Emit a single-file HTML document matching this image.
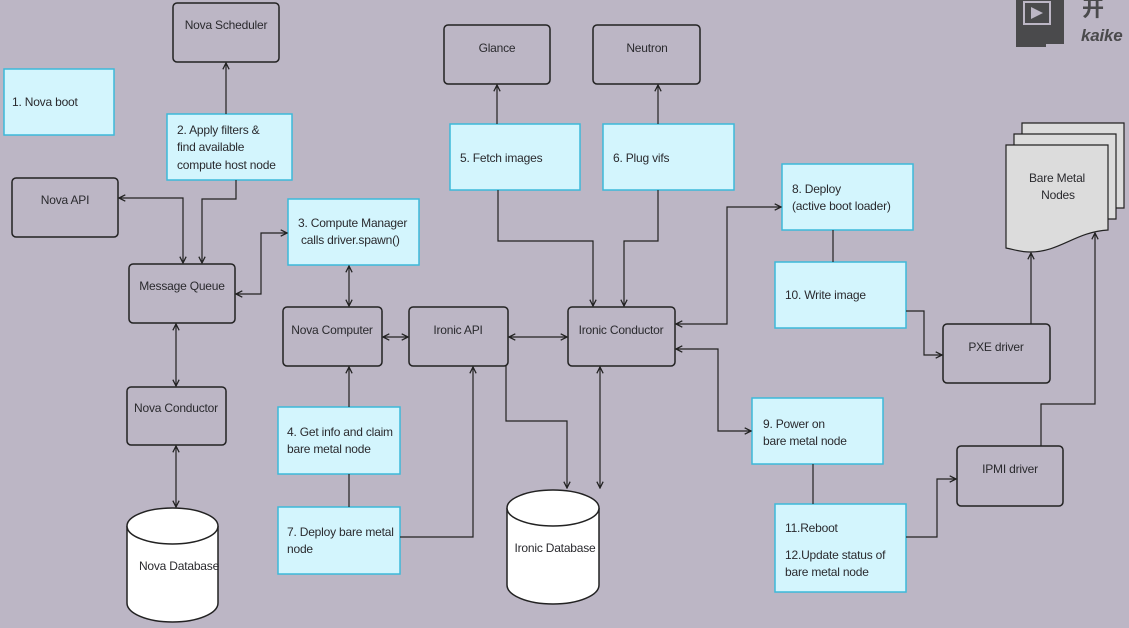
<!DOCTYPE html>
<html><head><meta charset="utf-8"><style>
html,body{margin:0;padding:0;background:#bcb6c5;}
svg{display:block;font-family:"Liberation Sans","Noto Sans CJK SC",sans-serif;}
text{font-size:12px;letter-spacing:-0.2px;fill:#2a2a2e;}
.b{fill:none;stroke:#222;stroke-width:1.5;}
.c{fill:#d3f5fd;stroke:#3db9da;stroke-width:1.5;}
.l{fill:none;stroke:#222;stroke-width:1.2;}
</style></head><body>
<svg width="1129" height="628" viewBox="0 0 1129 628" xmlns="http://www.w3.org/2000/svg">
<defs>
<marker id="a" viewBox="0 0 8 8" refX="7" refY="4" markerWidth="7" markerHeight="7" orient="auto-start-reverse"><path d="M1,1 L7,4 L1,7" fill="none" stroke="#222" stroke-width="1.2"/></marker>
</defs>
<rect width="1129" height="628" fill="#bcb6c5"/>

<!-- logo -->
<path d="M1016,0 H1064 V44 H1046 L1046,47 H1016 Z" fill="#4a4a4c"/>
<rect x="1024" y="2" width="26" height="22" fill="none" stroke="#bcb6c5" stroke-width="2"/>
<path d="M1031,7 L1043,13 L1031,19 Z" fill="#bcb6c5"/>
<text x="1082" y="16" style="font-size:22px;font-weight:bold;fill:#4a4a4c">开</text>
<text x="1081" y="41" style="font-size:17px;font-weight:bold;font-style:italic;fill:#4a4a4c">kaike</text>

<!-- plain boxes -->
<rect class="b" x="173" y="3" width="106" height="59" rx="4"/><text x="226" y="29" text-anchor="middle">Nova Scheduler</text>
<rect class="b" x="12" y="178" width="106" height="59" rx="4"/><text x="65" y="204" text-anchor="middle">Nova API</text>
<rect class="b" x="129" y="264" width="106" height="59" rx="4"/><text x="182" y="290" text-anchor="middle">Message Queue</text>
<rect class="b" x="127" y="387" width="99" height="58" rx="4"/><text x="176" y="412" text-anchor="middle">Nova Conductor</text>
<rect class="b" x="283" y="307" width="99" height="59" rx="4"/><text x="332" y="334" text-anchor="middle">Nova Computer</text>
<rect class="b" x="409" y="307" width="99" height="59" rx="4"/><text x="458" y="334" text-anchor="middle">Ironic API</text>
<rect class="b" x="568" y="307" width="107" height="59" rx="4"/><text x="621" y="334" text-anchor="middle">Ironic Conductor</text>
<rect class="b" x="444" y="25" width="106" height="59" rx="4"/><text x="497" y="52" text-anchor="middle">Glance</text>
<rect class="b" x="593" y="25" width="107" height="59" rx="4"/><text x="647" y="52" text-anchor="middle">Neutron</text>
<rect class="b" x="943" y="324" width="107" height="59" rx="4"/><text x="996" y="351" text-anchor="middle">PXE driver</text>
<rect class="b" x="957" y="446" width="106" height="60" rx="4"/><text x="1010" y="473" text-anchor="middle">IPMI driver</text>

<!-- cylinders -->
<path d="M127,526 V603 A45.5,19 0 0 0 218,603 V526" fill="#fff" stroke="#222" stroke-width="1.5"/>
<ellipse cx="172.5" cy="526" rx="45.5" ry="18" fill="#fff" stroke="#222" stroke-width="1.5"/>
<text x="179" y="570" text-anchor="middle">Nova Database</text>
<path d="M507,508 V585 A46,19 0 0 0 599,585 V508" fill="#fff" stroke="#222" stroke-width="1.5"/>
<ellipse cx="553" cy="508" rx="46" ry="18" fill="#fff" stroke="#222" stroke-width="1.5"/>
<text x="555" y="552" text-anchor="middle">Ironic Database</text>

<!-- bare metal docs -->
<path d="M1022,123 H1124 V208 H1022 Z" fill="#dcdcdc" stroke="#222" stroke-width="1.2"/>
<path d="M1014,134 H1116 V219 H1014 Z" fill="#dcdcdc" stroke="#222" stroke-width="1.2"/>
<path d="M1006,145 H1108 V230 C1075,232 1060,252 1030,252 C1020,252 1012,249 1006,248 Z" fill="#dcdcdc" stroke="#222" stroke-width="1.2"/>
<text x="1057" y="182" text-anchor="middle">Bare Metal</text>
<text x="1058" y="199" text-anchor="middle">Nodes</text>

<!-- cyan boxes -->
<rect class="c" x="4" y="69" width="110" height="66"/><text x="12" y="106">1. Nova boot</text>
<rect class="c" x="167" y="114" width="125" height="66"/><text x="177" y="134">2. Apply filters &amp;</text><text x="177" y="151">find available</text><text x="177" y="169">compute host node</text>
<rect class="c" x="288" y="199" width="131" height="66"/><text x="298" y="227">3. Compute Manager</text><text x="301" y="244">calls driver.spawn()</text>
<rect class="c" x="278" y="407" width="122" height="67"/><text x="287" y="436">4. Get info and claim</text><text x="287" y="453">bare metal node</text>
<rect class="c" x="278" y="507" width="122" height="67"/><text x="287" y="536">7. Deploy bare metal</text><text x="287" y="553">node</text>
<rect class="c" x="450" y="124" width="130" height="66"/><text x="460" y="162">5. Fetch images</text>
<rect class="c" x="603" y="124" width="131" height="66"/><text x="613" y="162">6. Plug vifs</text>
<rect class="c" x="782" y="164" width="131" height="66"/><text x="792" y="193">8. Deploy</text><text x="792" y="210">(active boot loader)</text>
<rect class="c" x="775" y="262" width="131" height="66"/><text x="785" y="299">10. Write image</text>
<rect class="c" x="752" y="398" width="131" height="66"/><text x="763" y="428">9. Power on</text><text x="763" y="445">bare metal node</text>
<rect class="c" x="775" y="504" width="131" height="88"/><text x="785" y="532">11.Reboot</text><text x="785" y="559">12.Update status of</text><text x="785" y="576">bare metal node</text>

<!-- connectors -->
<path class="l" d="M226,114 V63" marker-end="url(#a)"/>
<path class="l" d="M236,180 V199 H202 V263" marker-end="url(#a)"/>
<path class="l" d="M119,198 H183 V263" marker-start="url(#a)" marker-end="url(#a)"/>
<path class="l" d="M236,294 H261 V233 H287" marker-start="url(#a)" marker-end="url(#a)"/>
<path class="l" d="M349,266 V306" marker-start="url(#a)" marker-end="url(#a)"/>
<path class="l" d="M176,324 V386" marker-start="url(#a)" marker-end="url(#a)"/>
<path class="l" d="M176,446 V507" marker-start="url(#a)" marker-end="url(#a)"/>
<path class="l" d="M383,337 H408" marker-start="url(#a)" marker-end="url(#a)"/>
<path class="l" d="M509,337 H567" marker-start="url(#a)" marker-end="url(#a)"/>
<path class="l" d="M349,407 V367" marker-end="url(#a)"/>
<path class="l" d="M349,474 V507"/>
<path class="l" d="M400,537 H473 V367" marker-end="url(#a)"/>
<path class="l" d="M506,366 V421 H567 V488" marker-end="url(#a)"/>
<path class="l" d="M600,367 V488" marker-start="url(#a)" marker-end="url(#a)"/>
<path class="l" d="M497,124 V85" marker-end="url(#a)"/>
<path class="l" d="M498,190 V241 H593 V306" marker-end="url(#a)"/>
<path class="l" d="M658,124 V85" marker-end="url(#a)"/>
<path class="l" d="M658,190 V241 H624 V306" marker-end="url(#a)"/>
<path class="l" d="M676,324 H727 V207 H781" marker-start="url(#a)" marker-end="url(#a)"/>
<path class="l" d="M833,230 V262"/>
<path class="l" d="M906,311 H924 V355 H942" marker-end="url(#a)"/>
<path class="l" d="M676,349 H718 V431 H751" marker-start="url(#a)" marker-end="url(#a)"/>
<path class="l" d="M813,464 V504"/>
<path class="l" d="M906,537 H937 V479 H956" marker-end="url(#a)"/>
<path class="l" d="M1031,324 V253" marker-end="url(#a)"/>
<path class="l" d="M1041,446 V404 H1095 V233" marker-end="url(#a)"/>
</svg>
</body></html>
